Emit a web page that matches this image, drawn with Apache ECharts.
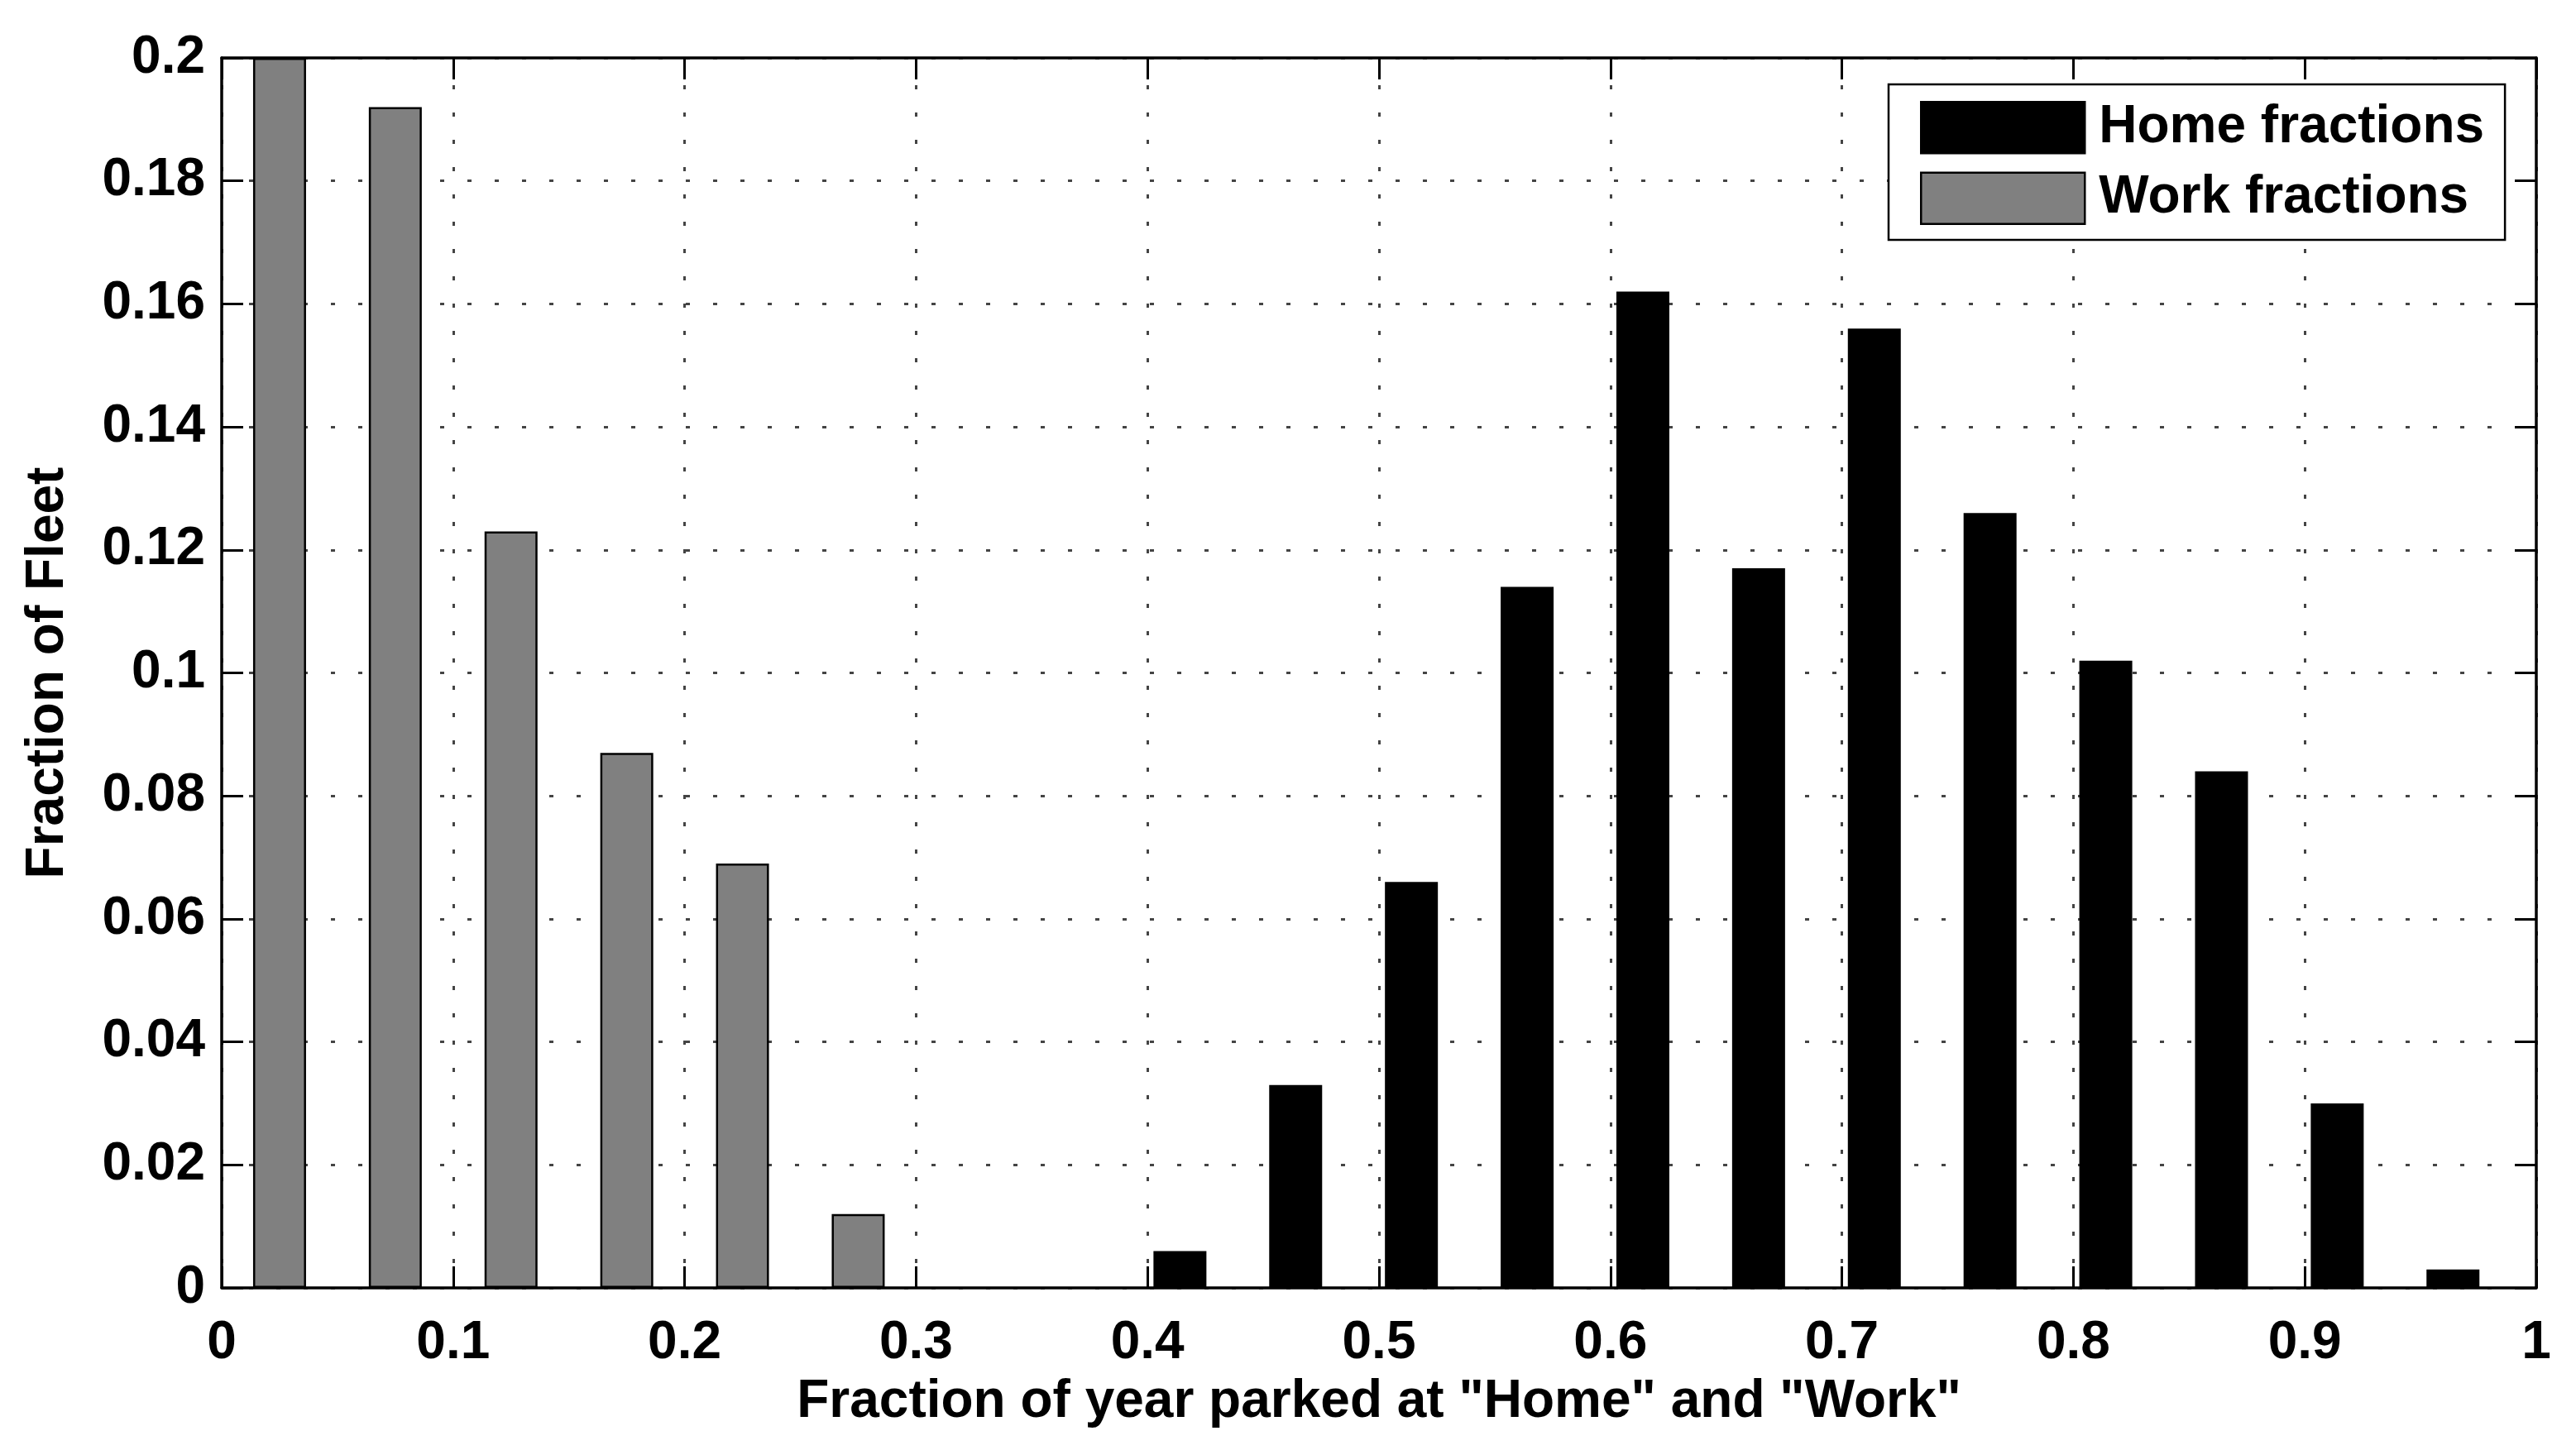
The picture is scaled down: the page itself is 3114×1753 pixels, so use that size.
<!DOCTYPE html>
<html>
<head>
<meta charset="utf-8">
<script src="https://cdn.jsdelivr.net/npm/echarts@6/dist/echarts.min.js"></script>
<style>
html,body{margin:0;padding:0;background:#fff;}
#chart{width:3114px;height:1753px;}
</style>
</head>
<body>
<div id="chart"></div>
<script>
const xTickLabels = ['0','0.1','0.2','0.3','0.4','0.5','0.6','0.7','0.8','0.9','1'];
const yTickLabels = ['0','0.02','0.04','0.06','0.08','0.1','0.12','0.14','0.16','0.18','0.2'];
const workX = [0.025, 0.075, 0.125, 0.175, 0.225, 0.275];
const workY = [0.200, 0.192, 0.123, 0.087, 0.069, 0.012];
const homeX = [0.414, 0.464, 0.514, 0.564, 0.614, 0.664, 0.714, 0.764, 0.814, 0.864, 0.914, 0.964];
const homeY = [0.006, 0.033, 0.066, 0.114, 0.162, 0.117, 0.156, 0.126, 0.102, 0.084, 0.030, 0.003];
const seriesNames = ['Home fractions', 'Work fractions'];
const xTitle = 'Fraction of year parked at "Home" and "Work"';
const yTitle = 'Fraction of Fleet';

const FONT = '"Liberation Sans", Arial, Helvetica, sans-serif';
const chart = echarts.init(document.getElementById('chart'), null, {renderer: 'canvas'});

const gridLine = {show: true, lineStyle: {color: '#444', width: 3, type: [5, 28]}};
const axLine = {show: true, onZero: false, lineStyle: {color: '#000', width: 3.5}};
const tick = {show: true, inside: true, length: 26, lineStyle: {color: '#000', width: 3}};

chart.setOption({
  animation: false,
  backgroundColor: '#fff',
  grid: {left: 268, right: 48, top: 70, bottom: 196, containLabel: false},
  legend: {
    orient: 'vertical',
    left: 2283, top: 102,
    padding: [20, 25, 18, 38],
    itemGap: 21,
    itemWidth: 198, itemHeight: 62,
    icon: 'rect',
    backgroundColor: '#fff',
    borderColor: '#000', borderWidth: 2.5, borderRadius: 0,
    itemStyle: {borderColor: '#000', borderWidth: 2.5},
    textStyle: {fontFamily: FONT, fontWeight: 'bold', fontSize: 64, color: '#000', padding: [0, 0, 0, 12], lineHeight: 62},
    data: seriesNames
  },
  xAxis: [{
    type: 'value', position: 'bottom', min: 0, max: 1, interval: 0.1, z: 5,
    axisLine: axLine, axisTick: tick, splitLine: {show: false},
    axisLabel: {margin: 35, fontFamily: FONT, fontWeight: 'bold', fontSize: 64, color: '#000',
      formatter: v => xTickLabels[Math.round(v * 10)]},
    name: xTitle, nameLocation: 'middle', nameGap: 106,
    nameTextStyle: {fontFamily: FONT, fontWeight: 'bold', fontSize: 64, color: '#000'}
  }, {
    type: 'value', position: 'top', min: 0, max: 1, interval: 0.1, z: 0,
    axisLine: axLine, axisTick: tick, axisLabel: {show: false}, splitLine: gridLine
  }],
  yAxis: [{
    type: 'value', position: 'left', min: 0, max: 0.2, interval: 0.02, z: 5,
    axisLine: axLine, axisTick: tick, splitLine: {show: false},
    axisLabel: {margin: 20, fontFamily: FONT, fontWeight: 'bold', fontSize: 64, color: '#000',
      formatter: v => yTickLabels[Math.round(v * 50)]},
    name: yTitle, nameLocation: 'middle', nameGap: 178, nameRotate: 90,
    nameTextStyle: {fontFamily: FONT, fontWeight: 'bold', fontSize: 64, color: '#000'}
  }, {
    type: 'value', position: 'right', min: 0, max: 0.2, interval: 0.02, z: 0,
    axisLine: axLine, axisTick: tick, axisLabel: {show: false}, splitLine: gridLine
  }],
  series: [{
    name: seriesNames[0], type: 'bar', xAxisIndex: 0, yAxisIndex: 0,
    barWidth: 64, barGap: '-100%',
    itemStyle: {color: '#000', borderColor: '#000', borderWidth: 2.5},
    data: homeX.map((x, i) => [x, homeY[i]])
  }, {
    name: seriesNames[1], type: 'bar', xAxisIndex: 0, yAxisIndex: 0,
    barWidth: 64, barGap: '-100%',
    itemStyle: {color: '#808080', borderColor: '#000', borderWidth: 2.5},
    data: workX.map((x, i) => [x, workY[i]])
  }]
});
</script>
</body>
</html>
